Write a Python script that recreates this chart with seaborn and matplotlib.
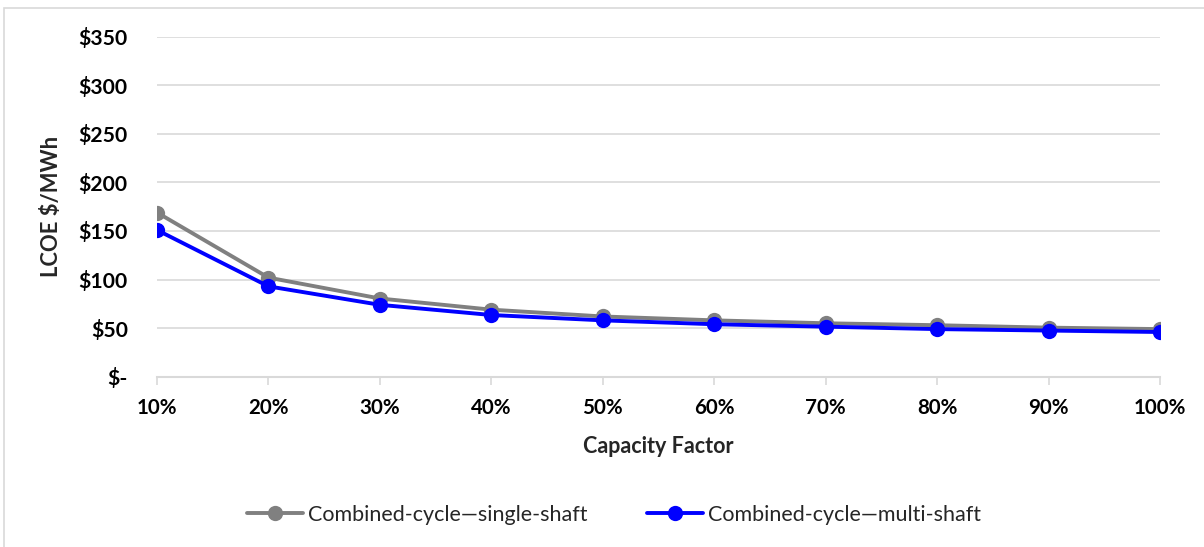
import matplotlib
matplotlib.use("Agg")
import matplotlib.pyplot as plt
import matplotlib.patches as mpatches
import seaborn as sns
import pandas as pd

# Levelized cost of electricity by capacity factor
capacity_factor = [10, 20, 30, 40, 50, 60, 70, 80, 90, 100]
single_shaft = [169, 102, 80.5, 69, 62, 58, 55, 53, 50.5, 49]
multi_shaft = [151, 93, 74, 63.5, 58, 54, 51.5, 49, 47.5, 46]
series_names = ["Combined-cycle\u2014single-shaft", "Combined-cycle\u2014multi-shaft"]
series_colors = ["#808080", "#0000FF"]
y_ticks = [0, 50, 100, 150, 200, 250, 300, 350]
y_tick_labels = ["$-", "$50", "$100", "$150", "$200", "$250", "$300", "$350"]

df = pd.DataFrame({
    "cf": capacity_factor * 2,
    "lcoe": single_shaft + multi_shaft,
    "series": [series_names[0]] * len(capacity_factor) + [series_names[1]] * len(capacity_factor),
})

sns.set_theme(style="white")
plt.rcParams["font.family"] = ["Lato", "DejaVu Sans"]

fig = plt.figure(figsize=(12.04, 5.47), dpi=100)
ax = fig.add_axes([157 / 1204, 1 - 376.7 / 547, (1160 - 157) / 1204, (376.7 - 36.7) / 547])

sns.lineplot(data=df, x="cf", y="lcoe", hue="series", hue_order=series_names,
             palette=series_colors, marker="o", markersize=11, markeredgewidth=0,
             linewidth=2.8, ax=ax, legend=True, zorder=3)

ax.set_xlim(10, 100)
ax.set_ylim(0, 350)
ax.set_xticks(capacity_factor)
ax.set_xticklabels([f"{v}%" for v in capacity_factor], fontsize=14.8, fontweight="bold")
ax.set_yticks(y_ticks)
ax.set_yticklabels(y_tick_labels, fontsize=15.2, fontweight="bold")
ax.yaxis.grid(True, color="#d9d9d9", linewidth=1.2)
ax.set_axisbelow(True)

for side in ["top", "right", "left"]:
    ax.spines[side].set_visible(False)
ax.spines["bottom"].set_color("#d9d9d9")
ax.spines["bottom"].set_linewidth(1.5)
ax.tick_params(axis="x", which="major", bottom=True, length=6, width=1.2,
               color="#d9d9d9", pad=9, labelcolor="black")
ax.tick_params(axis="y", left=False, pad=15, labelcolor="black")

ax.set_xlabel("Capacity Factor", fontsize=15.5, fontweight="bold", labelpad=13)
ax.set_ylabel("LCOE $/MWh", fontsize=15.8, fontweight="bold", labelpad=12)

handles, labels = ax.get_legend_handles_labels()
ax.legend(handles, labels, loc="center", bbox_to_anchor=(614 / 1204, 1 - 515 / 547),
          bbox_transform=fig.transFigure, ncol=2, frameon=False, fontsize=15.5,
          handlelength=2.6, columnspacing=2.8, handletextpad=0.2)

# Chart area outline
fig.patches.append(mpatches.Rectangle((3.5 / 1204, -0.05), 1.1, 1 - 8 / 547 + 0.05,
                                      transform=fig.transFigure, fill=False,
                                      edgecolor="#d9d9d9", linewidth=1.2))

fig.savefig("out.png", dpi=100, facecolor="white")
